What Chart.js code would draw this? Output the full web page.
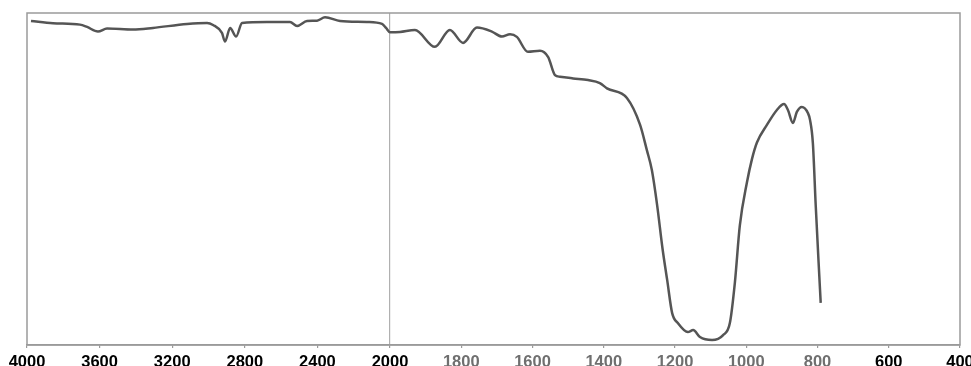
<!DOCTYPE html>
<html>
<head>
<meta charset="utf-8">
<script src="https://cdn.jsdelivr.net/npm/chart.js@4/dist/chart.umd.min.js"></script>
<style>
	body { margin: 0; background: #fff; }
	#caja { width: 971px; height: 366px; }
</style>
</head>
<body>
<div id="caja"><canvas id="myChart"></canvas></div>
<script>
// wavenumber (cm-1)
let numerosOnda = [3978, 3857, 3708, 3669, 3609, 3559, 3416, 3306, 3118, 3008,
	2975, 2926, 2909, 2881, 2848, 2815, 2678, 2551, 2512, 2457,
	2402, 2358, 2275, 2127, 2044, 2022, 2000, 1972, 1930, 1874,
	1832, 1795, 1756, 1714, 1686, 1663, 1644, 1613, 1579, 1556,
	1537, 1523, 1486, 1444, 1411, 1391, 1335, 1298, 1279, 1265,
	1250, 1235, 1222, 1208, 1192, 1164, 1149, 1130, 1096, 1065,
	1046, 1032, 1018, 998, 984, 970, 942, 914, 894, 883,
	869, 858, 844, 827, 821, 813, 805, 797, 791];

// transmittance (%)
let transmitancia = [97.6, 96.9, 96.5, 95.8, 94.4, 95.3, 95.0, 95.5, 96.7, 97.0,
	96.4, 94.0, 91.4, 95.5, 92.9, 97.0, 97.3, 97.3, 96.1, 97.6,
	97.7, 98.7, 97.6, 97.3, 96.7, 95.5, 94.2, 94.3, 94.9, 89.8,
	94.9, 91.0, 95.6, 94.4, 92.9, 93.6, 92.8, 88.3, 88.6, 86.7,
	81.3, 80.8, 80.3, 79.8, 78.9, 77.3, 74.4, 66.3, 58.7, 52.7,
	42.0, 29.0, 19.6, 9.6, 6.6, 3.9, 4.5, 2.4, 1.5, 3.0,
	6.6, 18.7, 36.0, 49.0, 56.0, 61.0, 66.3, 70.8, 72.6, 70.8,
	66.9, 70.2, 71.7, 69.9, 67.8, 60.8, 42.0, 25.0, 12.7];

let etiquetas = [4000, 3600, 3200, 2800, 2400, 2000, 1800, 1600, 1400, 1200, 1000, 800, 600, 400];
let etiquetasGrises = [1800, 1600, 1400, 1200, 1000, 800];

// IR scale changes at 2000: 400 per division above, 200 per division below
// (divisions above 2000 are drawn a little wider in the original)
let anchoArriba = 1.019;
function posicion(wn){
	if( wn >= 2000 ){
		return (4000 - wn) / 400 * anchoArriba;
	}
	return 5 * anchoArriba + (2000 - wn) / 200;
}

let puntos = [];
for (var i = 0; i < numerosOnda.length; i++) {
	puntos.push({ x: posicion(numerosOnda[i]), y: transmitancia[i] });
}

let marco = {
	id: 'marco',
	afterDraw(chart){
		let c = chart.ctx, a = chart.chartArea;
		c.save();
		c.strokeStyle = '#9a9a9a';
		c.lineWidth = 1.5;
		c.strokeRect(a.left, a.top, a.right - a.left, a.bottom - a.top);
		c.restore();
	}
};

let ctx = document.getElementById('myChart').getContext('2d');
let chart = new Chart(ctx, {
	type : 'line',
	data : {
		datasets : [{
			data            : puntos,
			borderColor     : '#555555',
			borderWidth     : 2.5,
			pointRadius     : 0,
			fill            : false,
			cubicInterpolationMode : 'monotone'
		}]
	},
	options : {
		responsive : true,
		maintainAspectRatio : false,
		animation : false,
		layout : { padding : { left: 27, right: 11, top: 13, bottom: 0 } },
		plugins : { legend : { display: false }, tooltip : { enabled: false } },
		scales : {
			x : {
				type : 'linear',
				min  : 0,
				max  : posicion(400),
				afterBuildTicks(scale){
					scale.ticks = etiquetas.map(function(e){ return { value: posicion(e) }; });
				},
				afterFit(scale){
					scale.paddingLeft = 0;
					scale.paddingRight = 0;
					scale.height = 21;
				},
				grid : {
					color : function(c){ return (c.tick && Math.abs(c.tick.value - posicion(2000)) < 0.001) ? '#b0b0b0' : 'rgba(0,0,0,0)'; },
					tickColor  : '#9a9a9a',
					tickLength : 3,
					lineWidth  : 1.2
				},
				border : { color: '#9a9a9a', width: 1.5 },
				ticks : {
					padding  : 6,
					maxRotation : 0,
					autoSkip : false,
					callback : function(v, i){ return etiquetas[i]; },
					color : function(c){
						let e = etiquetas[c.index];
						return etiquetasGrises.includes(e) ? '#6f6f6f' : '#000000';
					},
					font : { family: 'Liberation Sans, Arial, sans-serif', size: 16.5, weight: 'bold', lineHeight: 1 }
				}
			},
			y : {
				display : false,
				min : 0,
				max : 100
			}
		}
	},
	plugins : [marco]
});
</script>
</body>
</html>
